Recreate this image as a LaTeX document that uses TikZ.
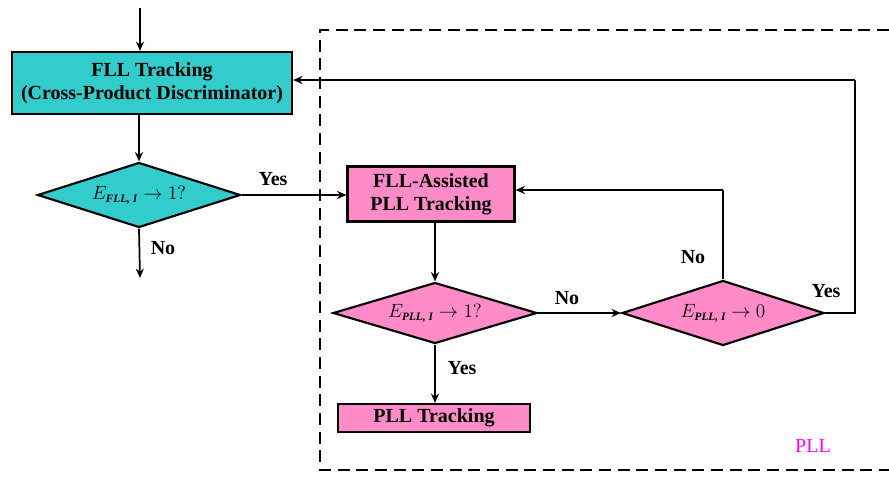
\documentclass[tikz,border=0pt]{standalone}
\usepackage{fontspec}
\setmainfont{Liberation Serif}
\usetikzlibrary{arrows.meta,shapes.geometric}
\definecolor{tealc}{RGB}{51,204,204}
\definecolor{pinkc}{RGB}{255,140,200}
\definecolor{magc}{RGB}{255,0,255}
\newcommand{\subbi}[1]{\mbox{\fontsize{8.5}{9}\selectfont\bfseries\itshape #1}}
\tikzset{
  box/.style={draw,line width=1.6pt,inner sep=0pt,font=\bfseries\fontsize{15}{17}\selectfont,align=center},
  dia/.style={draw,line width=1.6pt,diamond,inner sep=0pt,aspect=3.1},
  arr/.style={line width=1.3pt,-{Stealth[length=7pt,width=6pt]}},
  ln/.style={line width=1.3pt},
  lbl/.style={font=\bfseries\fontsize{15}{17}\selectfont},
  mtxt/.style={font=\fontsize{13.5}{15}\selectfont},
}
\begin{document}
\begin{tikzpicture}[x=0.75pt,y=-0.75pt]
\useasboundingbox (0,0) rectangle (889,479);
% dashed PLL region
\draw[line width=1.6pt,dash pattern=on 9pt off 5pt] (889,30) -- (320,30) -- (320,470) -- (889,470);
\node[text=magc,font=\fontsize{15}{17}\selectfont] (pll) at (813,446) {PLL};
% nodes
\node[box,fill=tealc,minimum width=280*0.75pt,minimum height=62*0.75pt] (fll) at (152,83) {FLL Tracking\\(Cross-Product Discriminator)};
\node[dia,fill=tealc,minimum width=203*0.75pt,minimum height=65*0.75pt] (d1) at (139,195) {};
\node[mtxt] (t1) at (d1) {$E_{\subbi{FLL, I}}\to 1?$};
\node[box,fill=pinkc,minimum width=167*0.75pt,minimum height=55*0.75pt] (fa) at (431,194) {FLL-Assisted\\PLL Tracking};
\node[dia,fill=pinkc,minimum width=204*0.75pt,minimum height=61*0.75pt] (d2) at (435,313) {};
\node[mtxt] (t2) at (d2) {$E_{\subbi{PLL, I}}\to 1?$};
\node[dia,fill=pinkc,minimum width=202*0.75pt,minimum height=65*0.75pt] (d3) at (723,313) {};
\node[mtxt] (t3) at (d3) {$E_{\subbi{PLL, I}}\to 0$};
\node[box,fill=pinkc,minimum width=192*0.75pt,minimum height=28*0.75pt] (pt) at (434,418) {PLL Tracking};
% coordinates
\coordinate (top) at (140,8);
\coordinate (out) at (140,278);
\coordinate (c1) at (855,310);
\coordinate (c2) at (855,80);
\coordinate (c3) at (723,190);
% connectors
\draw[arr] (top) -- (top |- fll.north);
\draw[arr] (fll.south -| d1.north) -- (d1.north);
\draw[arr] (d1.south) -- (out);
\draw[arr] (d1.east) -- (fa.west |- d1.east);
\draw[arr] (fa.south -| d2.north) -- (d2.north);
\draw[arr] (d2.east) -- (d3.west);
\draw[arr] (d2.south) -- (d2.south |- pt.north);
\draw[ln] (d3.north) -- (c3);
\draw[arr] (c3) -- (fa.east |- c3);
\draw[ln] (d3.east) -- (d3.east -| c1) -- (c2);
\draw[arr] (c2) -- (fll.east |- c2);
% labels
\node[lbl] (l1) at (273,179) {Yes};
\node[lbl] (l2) at (163,248) {No};
\node[lbl] (l3) at (567,298) {No};
\node[lbl] (l4) at (693,257) {No};
\node[lbl] (l5) at (826,291) {Yes};
\node[lbl] (l6) at (462,368) {Yes};
\end{tikzpicture}
\end{document}
